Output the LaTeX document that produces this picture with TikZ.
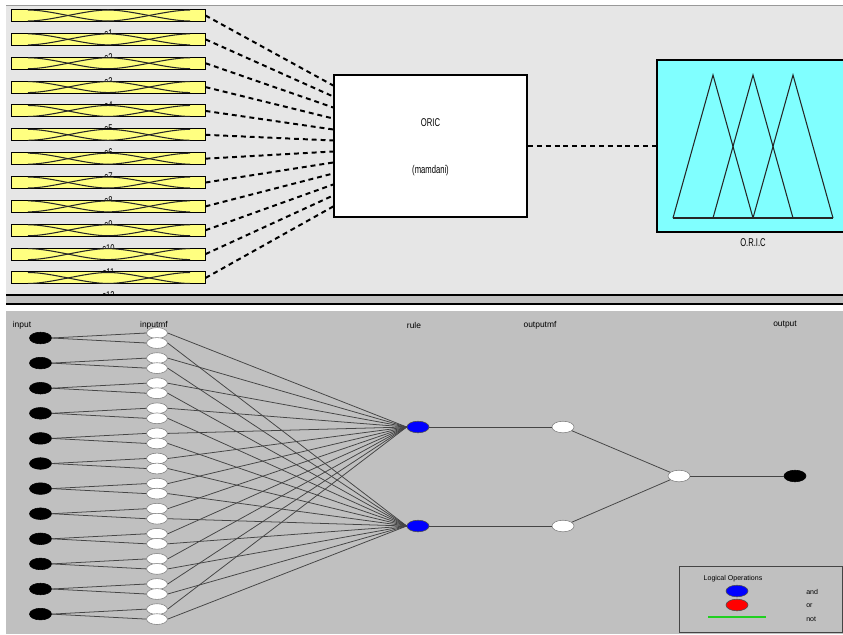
\documentclass[tikz,border=0pt]{standalone}
\usepackage{fontspec}
\setmainfont{Liberation Sans}
\newfontfamily\narrowfont[FakeStretch=0.68]{Liberation Sans}
\usetikzlibrary{shapes.geometric}
\definecolor{panelgray}{HTML}{E6E6E6}
\definecolor{netgray}{HTML}{C0C0C0}
\definecolor{mfyellow}{HTML}{FFFF80}
\definecolor{outcyan}{HTML}{80FFFF}
\definecolor{wiregray}{HTML}{454545}
\definecolor{notgreen}{HTML}{20D020}
\begin{document}
\begin{tikzpicture}[x=0.025cm, y=-0.025cm,
    inbar/.style={draw, line width=0.7pt, fill=mfyellow, minimum width=4.825cm, minimum height=0.3cm, inner sep=0pt},
    mfcurve/.style={line width=0.75pt, black!85},
    barlabel/.style={font=\narrowfont\fontsize{8}{9}\selectfont, inner sep=0pt},
    dashwire/.style={line width=1.4pt, dash pattern=on 3.5pt off 2.8pt},
    fisbox/.style={draw, line width=1.4pt, fill=white, minimum width=4.825cm, minimum height=3.55cm, inner sep=0pt},
    outbox/.style={draw, line width=0.8pt, fill=outcyan, minimum width=4.75cm, minimum height=4.3cm, inner sep=0pt},
    boxtext/.style={font=\narrowfont\fontsize{8}{9}\selectfont, inner sep=0pt},
    netlabel/.style={font=\fontsize{6}{7}\selectfont, inner sep=0pt},
    legtext/.style={font=\fontsize{5}{6}\selectfont, inner sep=0pt},
    dot/.style={ellipse, inner sep=0pt, minimum width=0.55cm, minimum height=0.29cm},
    inputnode/.style={dot, draw=black, fill=black},
    mfnode/.style={dot, draw=gray, fill=white, minimum width=0.52cm, minimum height=0.27cm},
    rulenode/.style={dot, draw=black!70, fill=blue},
    ornode/.style={dot, draw=black!70, fill=red},
    omfnode/.style={dot, draw=gray, fill=white},
    outnode/.style={dot, draw=black, fill=black},
    wire/.style={wiregray, line width=0.55pt}]
  \useasboundingbox (0,0) rectangle (843,634);

  % panels
  \fill[white] (0,0) rectangle (843,634);
  \fill[panelgray] (6,5) rectangle (843,295);
  \draw[gray!80] (6,5) -- (843,5);

  % FIS block diagram
  \node[fisbox] (fis) at (430.5,146) {};
  \node[boxtext] (fisname) at (430.5,123) {ORIC};
  \node[boxtext] (fistype) at (430.5,171) {(mamdani)};

  \foreach \i in {1,...,12} {
    \pgfmathsetmacro{\yb}{15.5+(\i-1)*23.86}
    \node[inbar] (bar\i) at (108.5,\yb) {};
    \draw[mfcurve] (28,\yb-5.5) .. controls (52,\yb-5.5) and (84,\yb+5.5) .. (108,\yb+5.5);
    \draw[mfcurve] (28,\yb+5.5) .. controls (52,\yb+5.5) and (84,\yb-5.5) .. (108,\yb-5.5)
                   .. controls (132,\yb-5.5) and (166,\yb+5.5) .. (190,\yb+5.5);
    \draw[mfcurve] (108,\yb+5.5) .. controls (132,\yb+5.5) and (166,\yb-5.5) .. (190,\yb-5.5);
    \node[barlabel, anchor=base] (barname\i) at (108.5,\yb+22) {c\i};
    \coordinate (fisin\i) at (334,75+\i*10.92);
  }
  \foreach \i in {1,...,12}
    \draw[dashwire] (bar\i.east) -- (fisin\i);

  \node[outbox] (oric) at (752,146) {};
  \draw[dashwire] (fis.east) -- (oric.west);
  \draw[mfcurve] (673,218) -- (713,75) -- (753,218);
  \draw[mfcurve] (713,218) -- (753,75) -- (793,218);
  \draw[mfcurve] (753,218) -- (793,75) -- (833,218);
  \draw[mfcurve] (673,218) -- (833,218);
  \node[boxtext] (oricname) at (753,243) {O.R.I.C};

  % divider and network panel
  \fill[white] (0,295) rectangle (843,634);
  \fill[netgray] (6,295) rectangle (843,304);
  \draw[line width=0.9pt] (6,295) -- (843,295);
  \draw[line width=0.9pt] (6,304) -- (843,304);
  \fill[netgray] (6,311) rectangle (843,634);

  % network view
  \node[netlabel] (lblin) at (22,325) {input};
  \node[netlabel] (lblinmf) at (154,325) {inputmf};
  \node[netlabel] (lblrule) at (414,325) {rule};
  \node[netlabel] (lbloutmf) at (540,325) {outputmf};
  \node[netlabel] (lblout) at (785,325) {output};

  \foreach \i in {1,...,12} {
    \pgfmathsetmacro{\yn}{338+(\i-1)*25.1}
    \node[inputnode] (in\i) at (40.5,\yn) {};
    \node[mfnode] (mfa\i) at (157,\yn-5) {};
    \node[mfnode] (mfb\i) at (157,\yn+5) {};
  }
  \node[rulenode] (rule1) at (418,427) {};
  \node[rulenode] (rule2) at (418,526) {};
  \node[omfnode] (omf1) at (563,427) {};
  \node[omfnode] (omf2) at (563,526) {};
  \node[omfnode] (agg) at (679,476) {};
  \node[outnode] (out) at (795,476) {};

  \foreach \i in {1,...,12} {
    \draw[wire] (in\i.east) -- (mfa\i.west);
    \draw[wire] (in\i.east) -- (mfb\i.west);
    \draw[wire] (mfa\i.east) -- (rule1.west);
    \draw[wire] (mfb\i.east) -- (rule2.west);
  }
  \draw[wire] (rule1) -- (omf1);
  \draw[wire] (rule2) -- (omf2);
  \draw[wire] (omf1) -- (agg);
  \draw[wire] (omf2) -- (agg);
  \draw[wire] (agg) -- (out);

  % legend
  \draw[wiregray, line width=0.6pt] (679,566) rectangle (842,632);
  \node[legtext] (legtitle) at (733,579) {Logical Operations};
  \node[rulenode] (legand) at (737,591) {};
  \node[ornode] (legor) at (737,605) {};
  \draw[notgreen, line width=0.8pt] (708,617) -- (766,617);
  \node[legtext, anchor=west] (txtand) at (806,592) {and};
  \node[legtext, anchor=west] (txtor) at (806,606) {or};
  \node[legtext, anchor=west] (txtnot) at (806,619) {not};
\end{tikzpicture}
\end{document}
